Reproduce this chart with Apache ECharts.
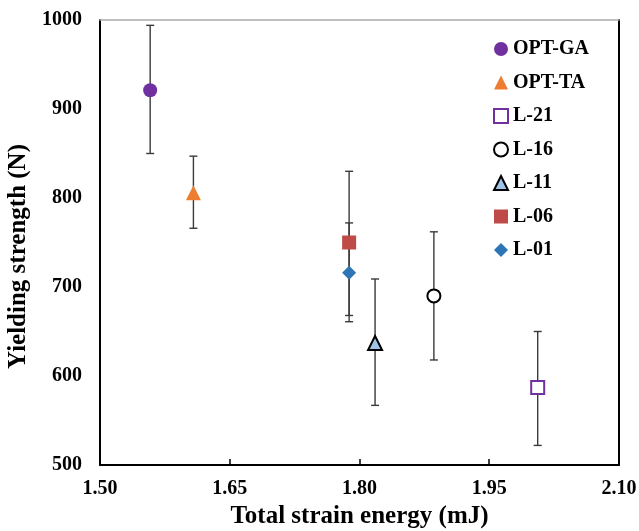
<!DOCTYPE html>
<html><head><meta charset="utf-8">
<script src="https://cdn.jsdelivr.net/npm/echarts@6/dist/echarts.min.js"></script>
<style>html,body{margin:0;padding:0;background:#fff}#c{width:639px;height:531px}</style>
</head><body><div id="c"></div>
<script>
const seriesNames = ['OPT-GA','OPT-TA','L-21','L-16','L-11','L-06','L-01'];
const energy   = [1.558, 1.608, 2.006, 1.886, 1.818, 1.788, 1.788];
const strength = [921, 806, 587, 690, 637, 750, 716];
const errLow   = [850, 766, 522, 618, 567, 661, 668];
const errHigh  = [994, 847, 650, 762, 709, 830, 772];
const xTicks = [1.50, 1.65, 1.80, 1.95, 2.10];
const yTicks = [500, 600, 700, 800, 900, 1000];

const styles = [
  {symbol:'circle', size:14, item:{color:'#7030A0'}},
  {symbol:'triangle', size:15, item:{color:'#ED7D31'}},
  {symbol:'rect', size:13, item:{color:'#ffffff', borderColor:'#7030A0', borderWidth:2}},
  {symbol:'circle', size:13, item:{color:'#ffffff', borderColor:'#000000', borderWidth:2}},
  {symbol:'triangle', size:14, item:{color:'#9DC3E6', borderColor:'#000000', borderWidth:2}},
  {symbol:'rect', size:14, item:{color:'#BE4B48'}},
  {symbol:'diamond', size:14, item:{color:'#2E75B6'}}
];
const font = "'Liberation Serif','Times New Roman',serif";

const errData = energy.map((x,i)=>[x, errLow[i], errHigh[i]]);
const series = [{
  type:'custom', name:'err', silent:true, z:1,
  data: errData,
  renderItem: function(params, api){
    const x = api.value(0);
    const lo = api.coord([x, api.value(1)]);
    const hi = api.coord([x, api.value(2)]);
    const w = 4;
    const st = {stroke:'#3a3a3a', lineWidth:1.4};
    return {type:'group', children:[
      {type:'line', shape:{x1:lo[0],y1:lo[1],x2:hi[0],y2:hi[1]}, style:st},
      {type:'line', shape:{x1:lo[0]-w,y1:lo[1],x2:lo[0]+w,y2:lo[1]}, style:st},
      {type:'line', shape:{x1:hi[0]-w,y1:hi[1],x2:hi[0]+w,y2:hi[1]}, style:st}
    ]};
  }
}];
seriesNames.forEach((n,i)=>{
  const it = Object.assign({opacity:1}, styles[i].item);
  series.push({type:'scatter', name:n, z:5, symbol:styles[i].symbol, symbolSize:styles[i].size,
    itemStyle:it, emphasis:{disabled:true}, data:[[energy[i], strength[i]]]});
});

const chart = echarts.init(document.getElementById('c'), null, {renderer:'canvas'});
chart.setOption({
  animation:false,
  backgroundColor:'#fff',
  grid:{left:100, right:20, top:20, bottom:66, outerBoundsMode:'none', containLabel:false},
  legend:{
    data: seriesNames, orient:'vertical', left:488, top:34,
    itemWidth:14, itemHeight:14, itemGap:13.5,
    textStyle:{fontFamily:font, fontWeight:'bold', fontSize:20, color:'#000'}
  },
  xAxis:[{
    type:'value', min:1.5, max:2.1, interval:0.15,
    name:'Total strain energy (mJ)', nameLocation:'middle', nameGap:32,
    nameTextStyle:{fontFamily:font, fontWeight:'bold', fontSize:25, color:'#000'},
    axisLine:{lineStyle:{color:'#000', width:2}},
    axisTick:{inside:true, length:6, lineStyle:{color:'#000', width:1.5}},
    axisLabel:{fontFamily:font, fontWeight:'bold', fontSize:20, color:'#000', margin:14,
      formatter:v=>v.toFixed(2)},
    splitLine:{show:false}
  },{
    type:'value', position:'top', min:1.5, max:2.1,
    axisLine:{show:true, lineStyle:{color:'#aaaaaa', width:1.5}},
    axisTick:{show:false}, axisLabel:{show:false}, splitLine:{show:false}
  }],
  yAxis:[{
    type:'value', min:500, max:1000, interval:100,
    name:'Yielding strength (N)', nameLocation:'middle', nameGap:59, nameRotate:90,
    nameTextStyle:{fontFamily:font, fontWeight:'bold', fontSize:25, color:'#000', padding:[0,28,0,0]},
    axisLine:{show:true, lineStyle:{color:'#000', width:2}},
    axisTick:{show:false},
    axisLabel:{fontFamily:font, fontWeight:'bold', fontSize:20, color:'#000', margin:18,
      formatter:v=>String(v)},
    splitLine:{show:false}
  },{
    type:'value', position:'right', min:500, max:1000,
    axisLine:{show:true, lineStyle:{color:'#000', width:2}},
    axisTick:{show:false}, axisLabel:{show:false}, splitLine:{show:false}
  }],
  series: series
});
</script></body></html>
